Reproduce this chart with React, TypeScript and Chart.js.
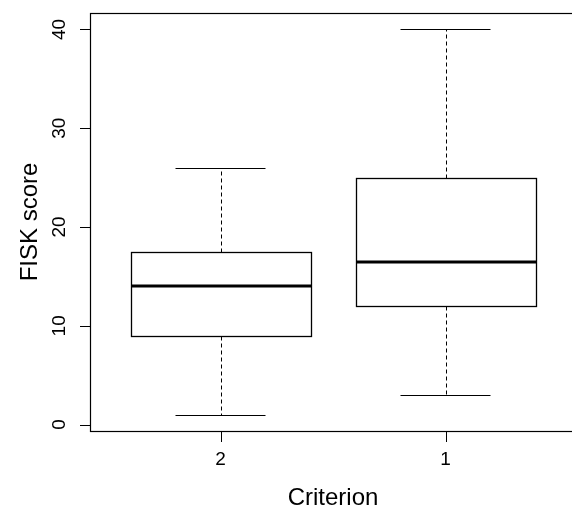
import React, { useEffect, useRef } from "react";
import { Chart, registerables } from "chart.js";

Chart.register(...registerables);

const categories = ["2", "1"];
const positions = [1, 2];
const whiskerLow = [1, 3];
const q1 = [9, 12];
const median = [14, 16.5];
const q3 = [17.5, 25];
const whiskerHigh = [26, 40];
const yTicks = [0, 10, 20, 30, 40];
const xTitle = "Criterion";
const yTitle = "FISK score";

const FONT = '"Liberation Sans", Arial, Helvetica, sans-serif';
const CANVAS_W = 600;
const CANVAS_H = 507;

const boxPlotPlugin = {
  id: "boxPlotExtras",
  afterDatasetsDraw(chart: any) {
    const ctx = chart.ctx;
    const xs = chart.scales.x;
    const ys = chart.scales.y;
    const area = chart.chartArea;
    const crisp = (v: number) => Math.round(v) + 0.5;
    ctx.save();
    ctx.strokeStyle = "#000";
    ctx.fillStyle = "#000";

    positions.forEach((p, i) => {
      const cx = crisp(xs.getPixelForValue(p));
      const boxL = crisp(xs.getPixelForValue(p - 0.4));
      const boxR = crisp(xs.getPixelForValue(p + 0.4));
      const capL = xs.getPixelForValue(p - 0.2);
      const capR = xs.getPixelForValue(p + 0.2);
      const yLo = crisp(ys.getPixelForValue(whiskerLow[i]));
      const yHi = crisp(ys.getPixelForValue(whiskerHigh[i]));
      const yQ1 = crisp(ys.getPixelForValue(q1[i]));
      const yQ3 = crisp(ys.getPixelForValue(q3[i]));
      const yMed = ys.getPixelForValue(median[i]);

      // box outline (crisp)
      ctx.lineWidth = 1.3;
      ctx.strokeRect(boxL, yQ3, boxR - boxL, yQ1 - yQ3);

      // dashed whiskers
      ctx.lineWidth = 1;
      ctx.setLineDash([4, 3]);
      ctx.beginPath();
      ctx.moveTo(cx, yQ3);
      ctx.lineTo(cx, yHi);
      ctx.moveTo(cx, yQ1);
      ctx.lineTo(cx, yLo);
      ctx.stroke();
      ctx.setLineDash([]);

      // caps
      ctx.beginPath();
      ctx.moveTo(capL, yHi);
      ctx.lineTo(capR, yHi);
      ctx.moveTo(capL, yLo);
      ctx.lineTo(capR, yLo);
      ctx.stroke();

      // median
      ctx.lineWidth = 3;
      ctx.beginPath();
      ctx.moveTo(boxL, Math.round(yMed));
      ctx.lineTo(boxR, Math.round(yMed));
      ctx.stroke();
    });

    // frame
    ctx.lineWidth = 1.2;
    ctx.strokeRect(
      area.left + 0.5,
      area.top + 0.5,
      area.right - area.left,
      area.bottom - area.top
    );

    // y ticks
    ctx.lineWidth = 1;
    ctx.font = `19px ${FONT}`;
    yTicks.forEach((t) => {
      const y = crisp(ys.getPixelForValue(t));
      ctx.beginPath();
      ctx.moveTo(area.left - 10, y);
      ctx.lineTo(area.left + 0.5, y);
      ctx.stroke();
      ctx.save();
      ctx.translate(65, ys.getPixelForValue(t));
      ctx.rotate(-Math.PI / 2);
      ctx.textAlign = "center";
      ctx.textBaseline = "alphabetic";
      ctx.fillText(String(t), 0, 0);
      ctx.restore();
    });

    // x ticks
    positions.forEach((p, i) => {
      const x = crisp(xs.getPixelForValue(p));
      ctx.beginPath();
      ctx.moveTo(x, area.bottom + 0.5);
      ctx.lineTo(x, area.bottom + 11);
      ctx.stroke();
      ctx.textAlign = "center";
      ctx.textBaseline = "alphabetic";
      ctx.fillText(categories[i], xs.getPixelForValue(p), 465);
    });

    // titles
    ctx.font = `24px ${FONT}`;
    ctx.textAlign = "center";
    ctx.textBaseline = "alphabetic";
    ctx.fillText(xTitle, 333, 505);
    ctx.save();
    ctx.translate(36.5, (area.top + area.bottom) / 2);
    ctx.rotate(-Math.PI / 2);
    ctx.fillText(yTitle, 0, 0);
    ctx.restore();

    ctx.restore();
  },
};

export default function App() {
  const ref = useRef<HTMLCanvasElement | null>(null);
  useEffect(() => {
    if (!ref.current) return;
    const chart = new Chart(ref.current, {
      type: "bar",
      data: {
        datasets: [
          {
            data: positions.map((p, i) => ({ x: p, y: [q1[i], q3[i]] })) as any,
            backgroundColor: "#ffffff",
            borderColor: "#000000",
            borderWidth: 0,
            borderSkipped: false,
            barPercentage: 0.8,
            categoryPercentage: 1,
          },
        ],
      },
      options: {
        responsive: false,
        animation: false,
        devicePixelRatio: 1,
        layout: { padding: { left: 90, top: 13, right: CANVAS_W - 576, bottom: CANVAS_H - 431 } },
        plugins: { legend: { display: false }, tooltip: { enabled: false }, title: { display: false } },
        scales: {
          x: {
            type: "linear",
            display: false,
            offset: false,
            grid: { offset: false },
            min: 0.42,
            max: 2.58,
            afterBuildTicks: (s: any) => {
              s.ticks = positions.map((v) => ({ value: v }));
            },
          },
          y: {
            type: "linear",
            display: false,
            min: -0.65,
            max: 41.67,
            afterBuildTicks: (s: any) => {
              s.ticks = yTicks.map((v) => ({ value: v }));
            },
          },
        },
      },
      plugins: [boxPlotPlugin],
    });
    return () => chart.destroy();
  }, []);
  return (
    <div
      style={{
        position: "absolute",
        left: 0,
        top: 0,
        width: 572,
        height: 507,
        overflow: "hidden",
        background: "#fff",
      }}
    >
      <canvas ref={ref} width={CANVAS_W} height={CANVAS_H} style={{ display: "block" }} />
    </div>
  );
}
